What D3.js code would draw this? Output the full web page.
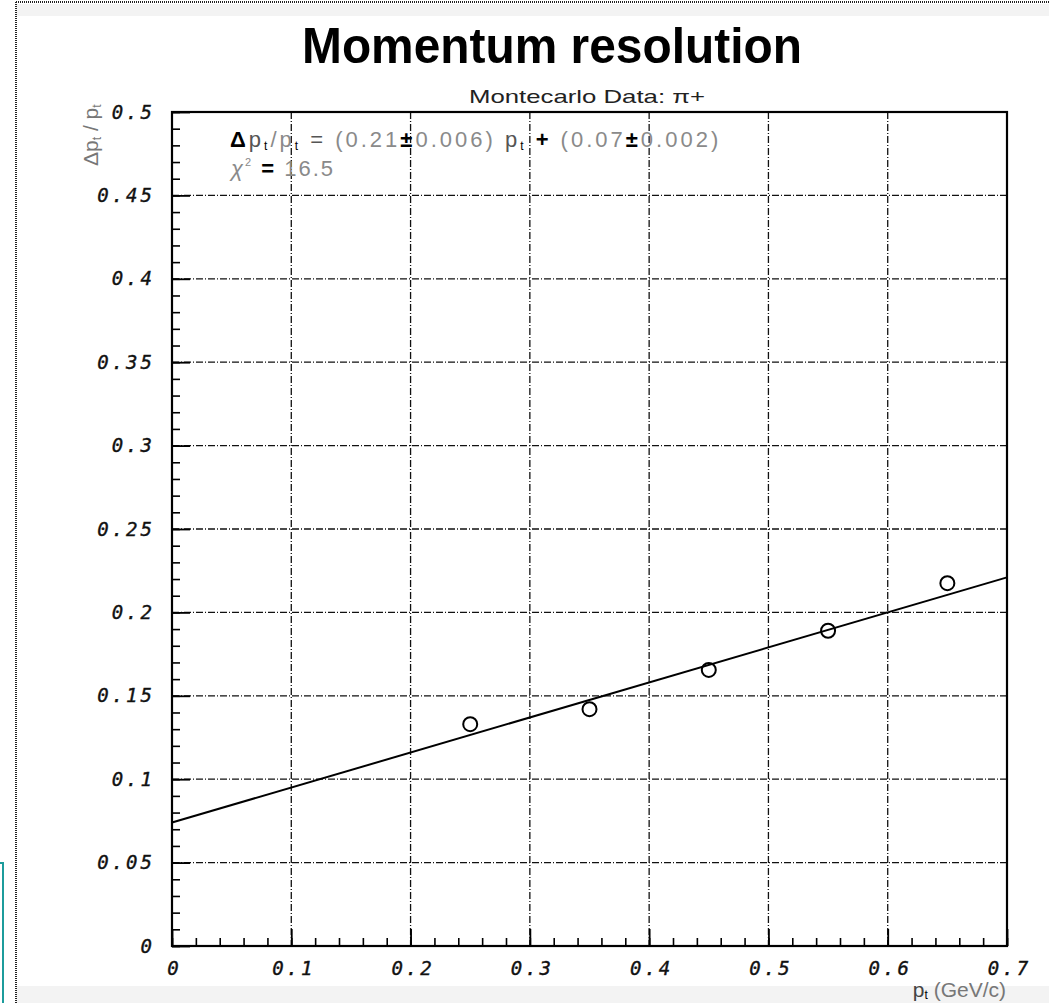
<!DOCTYPE html>
<html>
<head>
<meta charset="utf-8">
<script src="https://cdn.jsdelivr.net/npm/d3@7"></script>
<style>
  body { margin: 0; background: #fff; }
  svg { display: block; }
  .tick-lab { font-family: "DejaVu Sans Mono", monospace; font-style: italic; font-size: 19px; fill: #111; letter-spacing: 3px; stroke: #111; stroke-width: 0.4px; }
</style>
</head>
<body>
<div id="container"></div>
<script>
(function(){
// data
var ptValues = [0.25, 0.35, 0.45, 0.55, 0.65];
var resValues = [0.133, 0.142, 0.1655, 0.189, 0.2175];
var fitSlope = 0.21, fitIntercept = 0.074;
var xTicks = [0, 0.1, 0.2, 0.3, 0.4, 0.5, 0.6, 0.7];
var yTicks = [0, 0.05, 0.1, 0.15, 0.2, 0.25, 0.3, 0.35, 0.4, 0.45, 0.5];
var xLabels = ['0', '0.1', '0.2', '0.3', '0.4', '0.5', '0.6', '0.7'];
var yLabels = ['0', '0.05', '0.1', '0.15', '0.2', '0.25', '0.3', '0.35', '0.4', '0.45', '0.5'];

var W = 1049, H = 1003,
  left = 172, right = 1007, top = 112, bottom = 946;

var svg = d3.select('#container').append('svg').attr('width', W).attr('height', H);

var x = d3.scaleLinear().domain([0, 0.7]).range([left, right]),
  y = d3.scaleLinear().domain([0, 0.5]).range([bottom, top]);

// faint page bands + dotted outer frame
svg.append('rect').attr('x', 16).attr('y', 4).attr('width', W).attr('height', 12).attr('fill', '#f3f3f3');
svg.append('rect').attr('x', 16).attr('y', 986).attr('width', W).attr('height', 17).attr('fill', '#f3f3f3');
svg.append('line').attr('x1', 16).attr('x2', W).attr('y1', 2).attr('y2', 2)
  .attr('stroke', '#222').attr('stroke-width', 2).attr('stroke-dasharray', '1,1');
svg.append('line').attr('x1', 16).attr('x2', 16).attr('y1', 2).attr('y2', H)
  .attr('stroke', '#222').attr('stroke-width', 2).attr('stroke-dasharray', '1,1');
svg.append('rect').attr('x', -10).attr('y', 863).attr('width', 13).attr('height', 200)
  .attr('fill', 'none').attr('stroke', '#1c9c9c').attr('stroke-width', 2);

// title
svg.append('text').attr('x', 552).attr('y', 63).attr('text-anchor', 'middle')
  .attr('font-family', 'Liberation Sans, Arial, sans-serif').attr('font-weight', 'bold')
  .attr('font-size', 50).attr('textLength', 500).attr('lengthAdjust', 'spacingAndGlyphs')
  .attr('fill', '#000').text('Momentum resolution');

svg.append('text').attr('x', 587).attr('y', 103).attr('text-anchor', 'middle')
  .attr('font-family', 'Liberation Sans Narrow, Liberation Sans, sans-serif')
  .attr('font-size', 19).attr('textLength', 236).attr('lengthAdjust', 'spacingAndGlyphs')
  .attr('fill', '#222').text('Montecarlo Data: \u03c0+');

// grid
var gridDash = '7,2,1,2';
svg.append('g').selectAll('line').data(xTicks.filter(function(d){ return d > 0 && d < 0.7; }))
  .enter().append('line')
  .attr('x1', function(d){ return x(d); }).attr('x2', function(d){ return x(d); })
  .attr('y1', top).attr('y2', bottom)
  .attr('stroke', '#111').attr('stroke-width', 1.3).attr('stroke-dasharray', gridDash);
svg.append('g').selectAll('line').data(yTicks.filter(function(d){ return d > 0 && d < 0.5; }))
  .enter().append('line')
  .attr('y1', function(d){ return y(d); }).attr('y2', function(d){ return y(d); })
  .attr('x1', left).attr('x2', right)
  .attr('stroke', '#111').attr('stroke-width', 1.3).attr('stroke-dasharray', gridDash);

// axes: minor ticks then major ticks, pointing into the frame
var yMinor = d3.range(0, 0.5001, 0.01), xMinor = d3.range(0, 0.7001, 0.02);
svg.append('g').attr('transform', 'translate(' + left + ',0)')
  .call(d3.axisLeft(y).tickValues(yMinor).tickSize(-8).tickFormat(''))
  .call(function(g){ g.select('.domain').remove(); g.selectAll('line').attr('stroke-width', 1.6); });
svg.append('g').attr('transform', 'translate(0,' + bottom + ')')
  .call(d3.axisBottom(x).tickValues(xMinor).tickSize(-8).tickFormat(''))
  .call(function(g){ g.select('.domain').remove(); g.selectAll('line').attr('stroke-width', 1.6); });

svg.append('g').attr('transform', 'translate(' + left + ',0)')
  .call(d3.axisLeft(y).tickValues(yTicks).tickSize(-18).tickPadding(17)
    .tickFormat(function(d, i){ return yLabels[i]; }))
  .call(function(g){
    g.select('.domain').remove();
    g.selectAll('line').attr('stroke-width', 1.8);
    g.selectAll('text').attr('class', 'tick-lab').attr('font-size', null).attr('font-family', null);
  });
svg.append('g').attr('transform', 'translate(0,' + bottom + ')')
  .call(d3.axisBottom(x).tickValues(xTicks).tickSize(-17).tickPadding(12)
    .tickFormat(function(d, i){ return xLabels[i]; }))
  .call(function(g){
    g.select('.domain').remove();
    g.selectAll('line').attr('stroke-width', 1.8);
    g.selectAll('text').attr('class', 'tick-lab').attr('font-size', null).attr('font-family', null)
      .attr('dy', '0.9em').attr('dx', 2);
  });

// frame
svg.append('rect').attr('x', left).attr('y', top).attr('width', right - left).attr('height', bottom - top)
  .attr('fill', 'none').attr('stroke', '#000').attr('stroke-width', 2.2);

// fit line
var fit = d3.line().x(function(d){ return x(d); }).y(function(d){ return y(fitIntercept + fitSlope * d); });
svg.append('path').datum([0, 0.7]).attr('d', fit)
  .attr('fill', 'none').attr('stroke', '#000').attr('stroke-width', 2);

// data points
svg.append('g').selectAll('circle').data(ptValues).enter().append('circle')
  .attr('cx', function(d){ return x(d); })
  .attr('cy', function(d, i){ return y(resValues[i]); })
  .attr('r', 7).attr('fill', 'none').attr('stroke', '#000').attr('stroke-width', 2);

// fit annotation
var f = svg.append('text').attr('x', 230).attr('y', 147)
  .attr('font-family', 'Liberation Sans, Arial, sans-serif').attr('font-size', 22)
  .attr('letter-spacing', 3).attr('fill', '#8a8a8a');
f.append('tspan').attr('fill', '#000').attr('font-weight', 'bold').text('\u0394');
f.append('tspan').attr('fill', '#555').text('p');
f.append('tspan').attr('font-size', 12).attr('dy', 3).attr('fill', '#000').text('t');
f.append('tspan').attr('dy', -3).text('/p');
f.append('tspan').attr('font-size', 12).attr('dy', 3).attr('fill', '#000').text('t');
f.append('tspan').attr('dy', -3).attr('fill', '#555').text(' = ');
f.append('tspan').text('(0.21');
f.append('tspan').attr('fill', '#000').attr('font-weight', 'bold').text('\u00b1');
f.append('tspan').text('0.006) ');
f.append('tspan').attr('fill', '#555').text('p');
f.append('tspan').attr('font-size', 12).attr('dy', 3).attr('fill', '#000').text('t');
f.append('tspan').attr('dy', -3).attr('fill', '#000').attr('font-weight', 'bold').text(' + ');
f.append('tspan').text('(0.07');
f.append('tspan').attr('fill', '#000').attr('font-weight', 'bold').text('\u00b1');
f.append('tspan').text('0.002)');

var c = svg.append('text').attr('x', 231).attr('y', 176)
  .attr('font-family', 'Liberation Sans, Arial, sans-serif').attr('font-size', 22)
  .attr('letter-spacing', 2).attr('fill', '#8a8a8a');
c.append('tspan').attr('font-style', 'italic').text('\u03c7');
c.append('tspan').attr('font-size', 11).attr('dy', -10).text('2');
c.append('tspan').attr('dy', 10).attr('fill', '#000').attr('font-weight', 'bold').text(' = ');
c.append('tspan').text('16.5');

// axis titles
var ya = svg.append('text').attr('transform', 'translate(98,166) rotate(-90)')
  .attr('font-family', 'Liberation Sans, Arial, sans-serif').attr('font-size', 21).attr('fill', '#777');
ya.append('tspan').text('\u0394p');
ya.append('tspan').attr('font-size', 12).attr('dy', 3).text('t');
ya.append('tspan').attr('dy', -3).text(' / p');
ya.append('tspan').attr('font-size', 12).attr('dy', 3).text('t');

var xa = svg.append('text').attr('x', 1006).attr('y', 997).attr('text-anchor', 'end')
  .attr('font-family', 'Liberation Sans, Arial, sans-serif').attr('font-size', 21).attr('fill', '#777');
xa.append('tspan').attr('fill', '#444').text('p');
xa.append('tspan').attr('font-size', 12).attr('dy', 2).attr('fill', '#000').text('t');
xa.append('tspan').attr('dy', -2).text(' (GeV/c)');
})();
</script>
</body>
</html>
